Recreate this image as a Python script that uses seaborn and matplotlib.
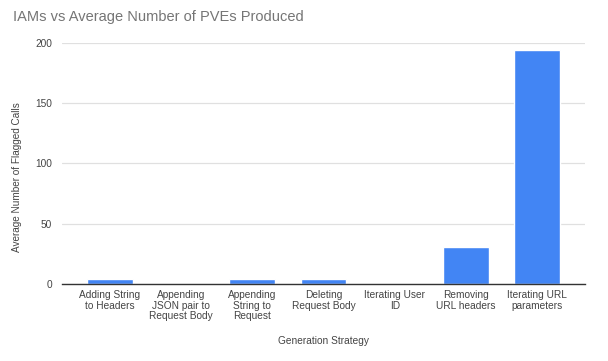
import matplotlib
matplotlib.use("Agg")
import matplotlib.pyplot as plt
import seaborn as sns
import pandas as pd

categories = ["Adding String\nto Headers", "Appending\nJSON pair to\nRequest Body",
              "Appending\nString to\nRequest", "Deleting\nRequest Body",
              "Iterating User\nID", "Removing\nURL headers", "Iterating URL\nparameters"]
values = [4, 0, 4, 4, 0, 30.5, 194]
yticks = [0, 50, 100, 150, 200]

sns.set_theme(style="white")
plt.rcParams['font.family'] = ['Liberation Sans', 'DejaVu Sans']

df = pd.DataFrame({"cat": categories, "val": values})
fig = plt.figure(figsize=(6.08, 3.61), dpi=100)
ax = fig.add_axes([62/608, 1-284/361, (585-62)/608, (284-42.7)/361])
sns.barplot(data=df, x="cat", y="val", color="#4285F4", width=0.645, ax=ax, saturation=1)
ax.set_xlim(-0.67, 6.67)
ax.set_ylim(0, 200)
ax.set_yticks(yticks)
ax.grid(axis="y", color="#e0e0e0", linewidth=0.9)
ax.set_axisbelow(True)
for s in ["top", "right", "left"]:
    ax.spines[s].set_visible(False)
ax.spines["bottom"].set_color("#333333")
ax.spines["bottom"].set_linewidth(1)
ax.tick_params(axis="both", length=0, labelsize=7.3, colors="#444444")
ax.tick_params(axis="x", pad=4)
ax.tick_params(axis="y", pad=7)
for lab in ax.get_xticklabels():
    lab.set_linespacing(1.12)
ax.set_xlabel("")
ax.set_ylabel("")
fig.text(323.5/608, 1-341/361, "Generation Strategy", fontsize=7.3, color="#444444",
         ha="center", va="center")
fig.text(17/608, 1-177/361, "Average Number of Flagged Calls", fontsize=7.2, color="#444444",
         ha="center", va="center", rotation=90)
fig.text(13/608, 1-17/361, "IAMs vs Average Number of PVEs Produced", fontsize=10.5,
         color="#757575", va="center", ha="left")
fig.savefig("out.png", dpi=100)
